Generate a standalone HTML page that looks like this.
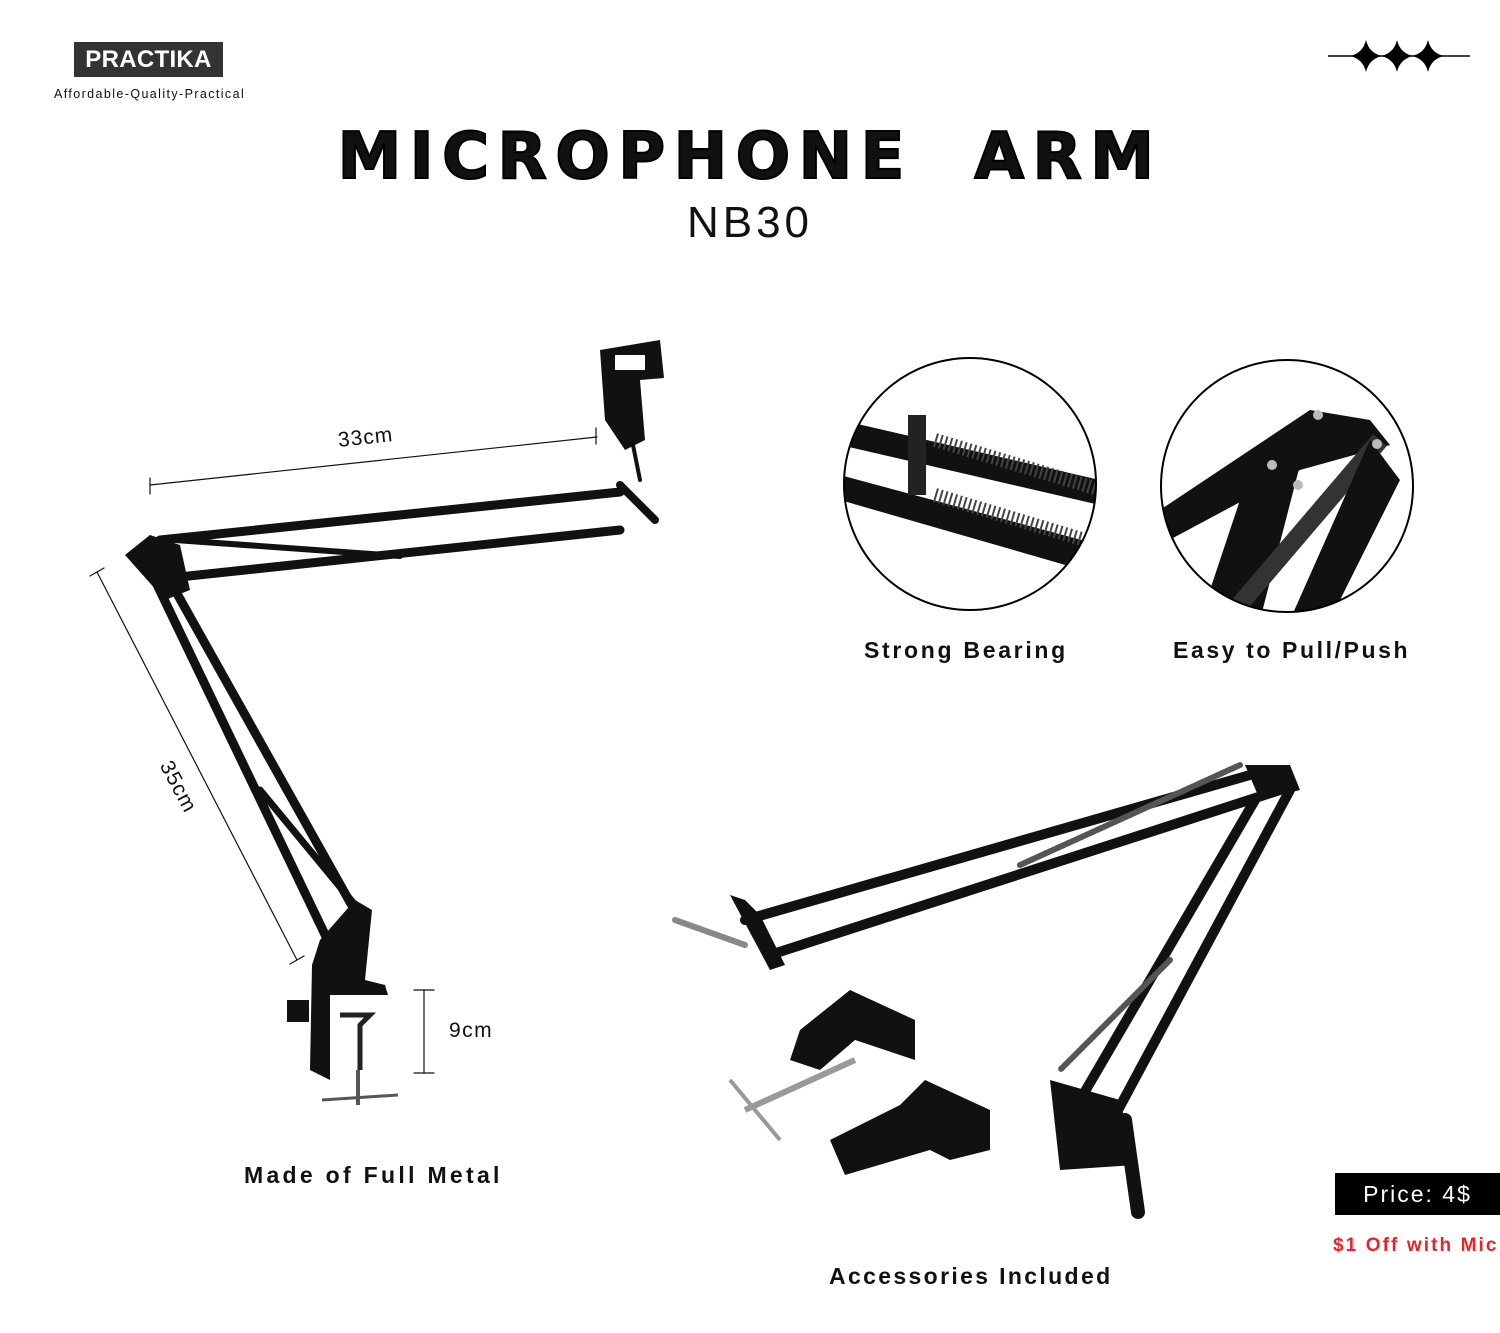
<!DOCTYPE html>
<html><head><meta charset="utf-8"><style>
body{margin:0;width:1500px;height:1333px;background:#fff;position:relative;overflow:hidden;font-family:"Liberation Sans",sans-serif;color:#111}
.a{position:absolute;white-space:nowrap}
</style></head><body>
<div class="a" style="left:74px;top:42px;width:149px;height:35px;background:#333;color:#fff;font-weight:bold;font-size:24px;line-height:35px;text-align:center;letter-spacing:0.3px">PRACTIKA</div>
<div class="a" style="left:54px;top:87px;font-size:12.5px;letter-spacing:1.4px">Affordable-Quality-Practical</div>
<svg class="a" style="left:1320px;top:35px" width="160" height="45" viewBox="0 0 160 45">
<line x1="8" y1="21" x2="150" y2="21" stroke="#000" stroke-width="1.5"/>
<g fill="#000">
<path d="M46 5 Q49 18 62 21 Q49 24 46 37 Q43 24 30 21 Q43 18 46 5Z"/>
<path d="M77 5 Q80 18 93 21 Q80 24 77 37 Q74 24 61 21 Q74 18 77 5Z"/>
<path d="M108 5 Q111 18 124 21 Q111 24 108 37 Q105 24 92 21 Q105 18 108 5Z"/>
</g></svg>
<div class="a" style="left:0;width:1500px;text-align:center;top:120px;font-size:64px;font-weight:900;letter-spacing:8.5px;font-family:'DejaVu Sans','Liberation Sans',sans-serif;-webkit-text-stroke:2px #000">MICROPHONE&nbsp; ARM</div>
<div class="a" style="left:0;width:1500px;text-align:center;top:198px;font-size:44px;letter-spacing:4px;font-weight:300">NB30</div>

<svg class="a" style="left:0;top:0" width="1500" height="1333">
<g stroke="#111" stroke-linecap="round" fill="none">
<line x1="150" y1="485" x2="597" y2="437" stroke-width="1.2"/>
<line x1="150" y1="478" x2="150" y2="494" stroke-width="1.2"/>
<line x1="596" y1="428" x2="596" y2="444" stroke-width="1.2"/>
<line x1="97" y1="572" x2="297" y2="960" stroke-width="1.2"/>
<line x1="90" y1="576" x2="104" y2="568" stroke-width="1.2"/>
<line x1="290" y1="964" x2="304" y2="956" stroke-width="1.2"/>
<line x1="424" y1="990" x2="424" y2="1073" stroke-width="1.2"/>
<line x1="414" y1="990" x2="434" y2="990" stroke-width="1.2"/>
<line x1="414" y1="1073" x2="434" y2="1073" stroke-width="1.2"/>
<line x1="160" y1="540" x2="620" y2="492" stroke-width="9"/>
<line x1="170" y1="578" x2="620" y2="530" stroke-width="9"/>
<line x1="175" y1="540" x2="400" y2="556" stroke-width="6"/>
<line x1="150" y1="570" x2="330" y2="945" stroke-width="9"/>
<line x1="175" y1="590" x2="360" y2="920" stroke-width="9"/>
<line x1="260" y1="790" x2="355" y2="905" stroke-width="7"/>
<line x1="620" y1="485" x2="655" y2="520" stroke-width="8"/>
<line x1="632" y1="440" x2="640" y2="480" stroke-width="4"/>
</g>
<path d="M125 555 L150 535 L180 545 L190 590 L165 600Z" fill="#111"/>
<path d="M600 350 L660 340 L664 378 L640 380 L645 440 L625 450 L605 420 Z" fill="#111"/>
<rect x="615" y="355" width="30" height="15" fill="#fff"/>
<path d="M320 940 L355 900 L372 910 L365 980 L385 985 L388 995 L330 995 L330 1080 L310 1070 L312 965Z" fill="#111"/>
<rect x="287" y="1000" width="22" height="22" fill="#111"/>
<path d="M340 1015 L370 1015 L360 1025 L360 1070" stroke="#222" stroke-width="5" fill="none"/>
<line x1="322" y1="1100" x2="398" y2="1095" stroke="#555" stroke-width="3"/>
<line x1="358" y1="1070" x2="358" y2="1105" stroke="#555" stroke-width="4"/>
<defs>
<clipPath id="c1"><circle cx="970" cy="484" r="126"/></clipPath>
<clipPath id="c2"><circle cx="1287" cy="486" r="126"/></clipPath>
</defs>
<g clip-path="url(#c1)">
<polygon points="840,420 1100,480 1100,505 840,445" fill="#111"/>
<polygon points="840,475 1100,545 1100,575 840,500" fill="#111"/>
<line x1="935" y1="440" x2="1095" y2="488" stroke="#444" stroke-width="14" stroke-dasharray="2 3"/>
<line x1="935" y1="495" x2="1085" y2="540" stroke="#444" stroke-width="14" stroke-dasharray="2 3"/>
<rect x="908" y="415" width="18" height="80" fill="#222"/>
</g>
<circle cx="970" cy="484" r="126" fill="none" stroke="#000" stroke-width="2"/>
<g clip-path="url(#c2)">
<polygon points="1160,510 1310,410 1370,420 1390,445 1300,470 1160,545" fill="#111"/>
<polygon points="1250,470 1300,465 1260,620 1200,620" fill="#111"/>
<line x1="1380" y1="440" x2="1235" y2="610" stroke="#333" stroke-width="18"/>
<polygon points="1370,440 1400,480 1330,620 1290,620" fill="#111"/>
<circle cx="1318" cy="415" r="5" fill="#bbb"/><circle cx="1272" cy="465" r="5" fill="#bbb"/><circle cx="1298" cy="485" r="5" fill="#bbb"/><circle cx="1377" cy="444" r="5" fill="#bbb"/>
</g>
<circle cx="1287" cy="486" r="126" fill="none" stroke="#000" stroke-width="2"/>
<g stroke="#111" stroke-linecap="round" fill="none">
<line x1="745" y1="920" x2="1250" y2="775" stroke-width="10"/>
<line x1="770" y1="955" x2="1280" y2="790" stroke-width="10"/>
<line x1="1020" y1="865" x2="1240" y2="765" stroke="#555" stroke-width="6" stroke-dasharray="2 2"/>
<line x1="1290" y1="790" x2="1110" y2="1125" stroke-width="10"/>
<line x1="1255" y1="800" x2="1080" y2="1100" stroke-width="10"/>
<line x1="1170" y1="960" x2="1060" y2="1070" stroke="#555" stroke-width="6" stroke-dasharray="2 2"/>
<line x1="1125" y1="1120" x2="1138" y2="1212" stroke-width="14"/>
<line x1="675" y1="920" x2="745" y2="945" stroke="#888" stroke-width="6"/>
</g>
<path d="M730 895 L745 900 L760 915 L785 965 L770 970 Z" fill="#111"/>
<path d="M1245 765 L1290 765 L1300 790 L1260 800Z" fill="#111"/>
<path d="M1050 1080 L1120 1100 L1135 1165 L1060 1170Z" fill="#111"/>
<path d="M800 1030 L850 990 L915 1020 L915 1060 L855 1040 L820 1070 L790 1060Z" fill="#111"/>
<line x1="745" y1="1110" x2="855" y2="1060" stroke="#999" stroke-width="6"/>
<line x1="730" y1="1080" x2="780" y2="1140" stroke="#999" stroke-width="4"/>
<path d="M830 1140 L900 1105 L925 1080 L990 1110 L990 1150 L950 1160 L930 1150 L845 1175 Z" fill="#111"/>
</svg>

<div class="a" style="left:338px;top:426px;font-size:21px;transform:rotate(-6deg);letter-spacing:1px">33cm</div>
<div class="a" style="left:150px;top:775px;font-size:21px;transform:rotate(62deg);letter-spacing:1px">35cm</div>
<div class="a" style="left:449px;top:1019px;font-size:21px;letter-spacing:1.5px">9cm</div>
<div class="a" style="left:864px;top:637px;font-size:23px;font-weight:bold;letter-spacing:2.7px">Strong Bearing</div>
<div class="a" style="left:1173px;top:637px;font-size:23px;font-weight:bold;letter-spacing:2.6px">Easy to Pull/Push</div>
<div class="a" style="left:244px;top:1162px;font-size:23px;font-weight:bold;letter-spacing:3.3px">Made of Full Metal</div>
<div class="a" style="left:829px;top:1263px;font-size:23px;font-weight:bold;letter-spacing:2.35px">Accessories Included</div>
<div class="a" style="left:1335px;top:1173px;width:165px;height:42px;background:#000;color:#fff;font-size:23px;line-height:42px;text-align:center;letter-spacing:2px">Price: 4$</div>
<div class="a" style="left:1333px;top:1235px;font-size:19px;font-weight:bold;color:#e8242a;letter-spacing:2.1px">$1 Off with Mic</div>
</body></html>
